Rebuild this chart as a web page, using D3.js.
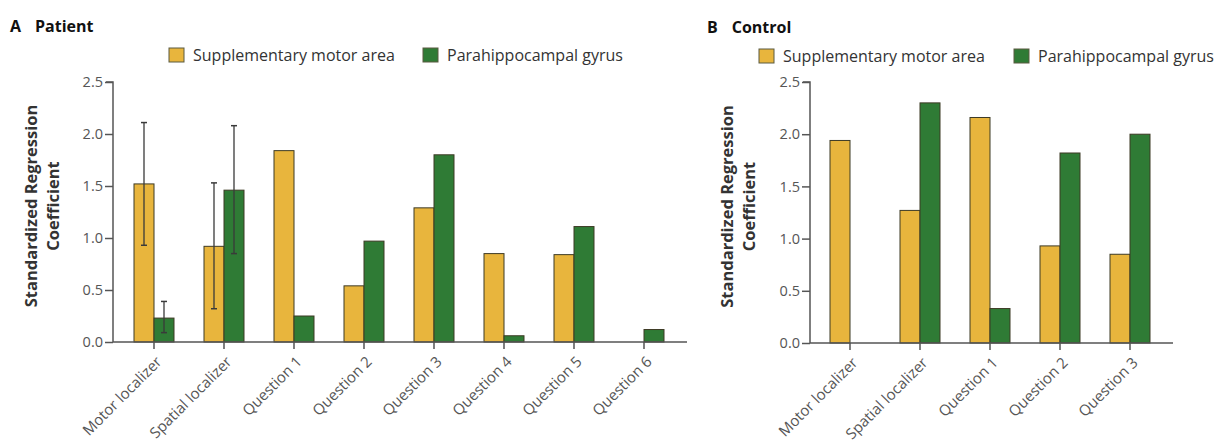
<!DOCTYPE html>
<html><head><meta charset="utf-8">
<script src="https://cdn.jsdelivr.net/npm/d3@7"></script>
<style>
body{margin:0;background:#fff;}
text{font-family:"Open Sans",sans-serif;}
</style></head>
<body><svg id="chart" width="1223" height="446"></svg>
<script>
// Panel A (Patient)
const catsA = ["Motor localizer","Spatial localizer","Question 1","Question 2","Question 3","Question 4","Question 5","Question 6"];
const smaA = [1.52, 0.92, 1.84, 0.54, 1.29, 0.85, 0.84, 0];
const phgA = [0.23, 1.46, 0.25, 0.97, 1.80, 0.06, 1.11, 0.12];
const smaErrA = [[0.93, 2.11],[0.32, 1.53],null,null,null,null,null,null];
const phgErrA = [[0.09, 0.39],[0.85, 2.08],null,null,null,null,null,null];
// Panel B (Control)
const catsB = ["Motor localizer","Spatial localizer","Question 1","Question 2","Question 3"];
const smaB = [1.94, 1.27, 2.16, 0.93, 0.85];
const phgB = [0, 2.30, 0.33, 1.82, 2.00];
const yTicks = [0, 0.5, 1.0, 1.5, 2.0, 2.5];
const seriesNames = ["Supplementary motor area","Parahippocampal gyrus"];
const colors = ["#E8B53D","#2F7B35"];

const svg = d3.select("#chart");

function panel(opt){
  const g = svg.append("g");
  const y = d3.scaleLinear().domain([0,2.5]).range([opt.y0, opt.y1]);
  const x = d3.scaleBand().domain(opt.cats).range([opt.xb0, opt.xb1]);
  const bw = 20;
  // title
  const t = g.append("text").attr("x", opt.tx).attr("y", opt.ty)
    .attr("font-size", 16).attr("font-weight", 700).attr("fill", "#111");
  t.append("tspan").text(opt.letter);
  t.append("tspan").attr("dx", 14).text(opt.title);
  // legend
  seriesNames.forEach((n,i)=>{
    g.append("rect").attr("x", opt.leg[i]).attr("y", opt.legY-13).attr("width", 15).attr("height", 14)
      .attr("fill", colors[i]).attr("stroke", "#5a5a40").attr("stroke-width", 1);
    g.append("text").attr("x", opt.leg[i]+24).attr("y", opt.legY).attr("font-size", 16)
      .attr("fill", "#333").text(n);
  });
  // y axis
  const ya = g.append("g").attr("transform", `translate(${opt.ax},0)`)
    .call(d3.axisLeft(y).tickValues(yTicks).tickFormat(d3.format(".1f")).tickSize(8).tickPadding(2));
  ya.select(".domain").attr("stroke", "#555").attr("stroke-width", 1.5).attr("d", `M-7,${opt.y1}H0V${opt.y0}`);
  ya.selectAll(".tick line").attr("stroke", "#555").attr("stroke-width", 1.5);
  ya.selectAll(".tick text").attr("font-size", 14.5).attr("fill", "#555").attr("font-family", "Open Sans, sans-serif");
  // y title
  const yt = g.append("text").attr("transform", `translate(${opt.ytx},${(opt.y0+opt.y1)/2 - 6}) rotate(-90)`)
    .attr("text-anchor", "middle").attr("font-size", 16.5).attr("font-weight", 700).attr("fill", "#333");
  yt.append("tspan").attr("x", 0).attr("dy", 0).text("Standardized Regression");
  yt.append("tspan").attr("x", 0).attr("dy", 22).text("Coefficient");
  // bars
  const data = opt.cats.map((c,i)=>({c, v:[opt.sma[i], opt.phg[i]], e:[opt.smaErr?opt.smaErr[i]:null, opt.phgErr?opt.phgErr[i]:null]}));
  data.forEach(d=>{
    const cx = x(d.c) + x.bandwidth()/2;
    d.v.forEach((v,i)=>{
      if (v>0) {
        g.append("rect").attr("x", cx + (i===0?-bw:0)).attr("y", y(v)).attr("width", bw).attr("height", y(0)-y(v))
          .attr("fill", colors[i]).attr("stroke", "#3d3a25").attr("stroke-width", 1);
      }
    });
    d.e.forEach((e,i)=>{
      if (e) {
        const ex = cx + (i===0?-bw/2:bw/2);
        g.append("line").attr("x1", ex).attr("x2", ex).attr("y1", y(e[0])).attr("y2", y(e[1])).attr("stroke", "#3a3a3a").attr("stroke-width", 1.3);
        [e[0],e[1]].forEach(ev=>g.append("line").attr("x1", ex-3).attr("x2", ex+3).attr("y1", y(ev)).attr("y2", y(ev)).attr("stroke", "#3a3a3a").attr("stroke-width", 1.5));
      }
    });
  });
  // x axis
  const xa = g.append("g").attr("transform", `translate(0,${opt.y0})`)
    .call(d3.axisBottom(x).tickSize(7).tickPadding(4));
  xa.select(".domain").attr("stroke", "#555").attr("stroke-width", 1.5).attr("d", `M${opt.ax},0H${opt.axEnd}`);
  xa.selectAll(".tick line").attr("stroke", "#555").attr("stroke-width", 1.5);
  xa.selectAll(".tick text").attr("font-size", 15).attr("fill", "#555").attr("font-family", "Open Sans, sans-serif")
    .attr("text-anchor", "end").attr("x", 0).attr("y", 0).attr("dy", "0.35em")
    .attr("transform", "translate(5,17) rotate(-45)");
}

panel({cats:catsA, sma:smaA, phg:phgA, smaErr:smaErrA, phgErr:phgErrA,
  y0:342, y1:82, xb0:119, xb1:679, ax:113, axEnd:687,
  tx:10, ty:32, letter:"A", title:"Patient", leg:[169,423], legY:61, ytx:37});
panel({cats:catsB, sma:smaB, phg:phgB,
  y0:343, y1:82, xb0:815, xb1:1165, ax:810, axEnd:1173,
  tx:707, ty:33, letter:"B", title:"Control", leg:[759,1014], legY:62, ytx:733});
</script></body></html>
